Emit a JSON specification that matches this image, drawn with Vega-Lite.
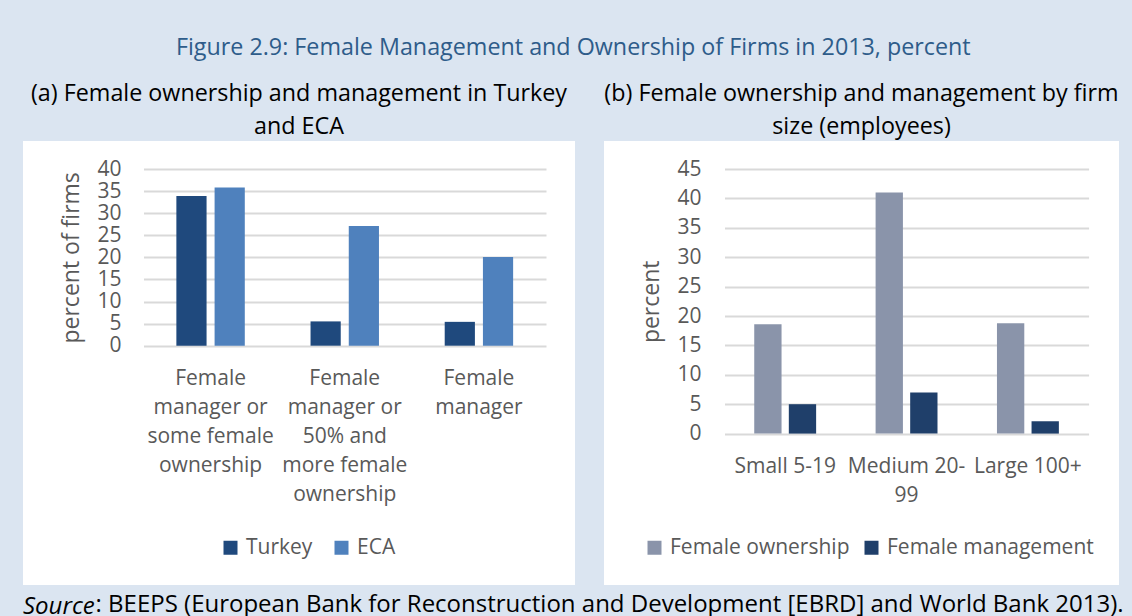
{
  "$schema": "https://vega.github.io/schema/vega-lite/v6.json",
  "background": "#dbe5f1",
  "padding": {"left": 23, "top": 36, "right": 11, "bottom": 20},
  "title": {"text": "Figure 2.9: Female Management and Ownership of Firms in 2013, percent", "font": "Open Sans", "fontSize": 23.3, "fontWeight": "normal", "color": "#2e5c8a", "anchor": "middle", "offset": 21},
  "config": {
    "view": {"fill": "white", "stroke": null},
    "font": "Open Sans",
    "axis": {"labelFont": "Open Sans", "titleFont": "Open Sans", "labelColor": "#595959", "titleColor": "#595959", "labelFontSize": 21, "titleFontSize": 23, "titleFontWeight": "normal", "domain": false, "ticks": false, "gridColor": "#d9d9d9", "gridWidth": 2},
    "legend": {"labelFont": "Open Sans", "labelFontSize": 21, "labelColor": "#595959", "symbolType": "square", "symbolSize": 196, "symbolStrokeWidth": 0, "columnPadding": 18, "labelOffset": 5, "padding": 0, "title": null, "labelLimit": 400},
    "title": {"font": "Open Sans", "fontWeight": "normal", "color": "black"}
  },
  "vconcat": [
    {
      "title": {"text": ": BEEPS (European Bank for Reconstruction and Development [EBRD] and World Bank 2013).", "orient": "bottom", "anchor": "start", "dx": 72.5, "offset": -26.5, "fontSize": 24, "color": "black"},
      "vconcat": [
        {
          "title": {"text": "Source", "orient": "bottom", "anchor": "start", "fontStyle": "italic", "fontSize": 24, "color": "black", "offset": 10},
          "bounds": "flush",
          "spacing": 29,
          "resolve": {"scale": {"x": "independent", "y": "independent", "color": "independent", "xOffset": "independent"}, "legend": {"color": "independent"}},
          "hconcat": [
            {
              "width": 552,
              "height": 444,
              "title": {"text": ["(a) Female ownership and management in Turkey", "and ECA"], "fontSize": 23.3, "color": "black", "lineHeight": 33, "anchor": "middle", "offset": 2},
              "data": {"values": [
                {"category": "Female|manager or|some female|ownership", "series": "Turkey", "value": 33.9},
                {"category": "Female|manager or|some female|ownership", "series": "ECA", "value": 35.8},
                {"category": "Female|manager or|50% and|more female|ownership", "series": "Turkey", "value": 5.5},
                {"category": "Female|manager or|50% and|more female|ownership", "series": "ECA", "value": 27.1},
                {"category": "Female|manager", "series": "Turkey", "value": 5.4},
                {"category": "Female|manager", "series": "ECA", "value": 20.1}
              ]},
              "mark": {"type": "bar"},
              "encoding": {
                "x": {"field": "category", "type": "nominal", "sort": null, "scale": {"range": [120.5, 523], "paddingInner": 0.49, "paddingOuter": 0.245}, "axis": {"title": null, "orient": "bottom", "offset": -239.3, "labelExpr": "split(datum.value, '|')", "labelAngle": 0, "labelLineHeight": 29, "labelPadding": 22, "labelLimit": 300, "labelOverlap": false, "grid": false}},
                "xOffset": {"field": "series", "type": "nominal", "sort": ["Turkey", "ECA"], "scale": {"paddingInner": 0.21}},
                "y": {"field": "value", "type": "quantitative", "scale": {"domain": [0, 40], "range": [204.7, 28], "nice": false}, "axis": {"title": "percent of firms", "values": [0, 5, 10, 15, 20, 25, 30, 35, 40], "offset": -120.5, "labelPadding": 22.5, "grid": true, "titlePadding": 13}},
                "color": {"field": "series", "type": "nominal", "sort": ["Turkey", "ECA"], "scale": {"domain": ["Turkey", "ECA"], "range": ["#1f497d", "#4f81bd"]}, "legend": {"orient": "none", "legendX": 197, "legendY": 396, "direction": "horizontal"}}
              }
            },
            {
              "width": 515,
              "height": 444,
              "title": {"text": ["(b) Female ownership and management by firm", "size (employees)"], "fontSize": 23.3, "color": "black", "lineHeight": 33, "anchor": "middle", "offset": 2},
              "data": {"values": [
                {"size": "Small 5-19", "series": "Female ownership", "value": 18.6},
                {"size": "Small 5-19", "series": "Female management", "value": 5.0},
                {"size": "Medium 20-|99", "series": "Female ownership", "value": 41.0},
                {"size": "Medium 20-|99", "series": "Female management", "value": 7.0},
                {"size": "Large 100+", "series": "Female ownership", "value": 18.75},
                {"size": "Large 100+", "series": "Female management", "value": 2.1}
              ]},
              "mark": {"type": "bar"},
              "encoding": {
                "x": {"field": "size", "type": "nominal", "sort": null, "scale": {"range": [120.5, 484.6], "paddingInner": 0.49, "paddingOuter": 0.245}, "axis": {"title": null, "orient": "bottom", "offset": -151.4, "labelExpr": "split(datum.value, '|')", "labelAngle": 0, "labelLineHeight": 29, "labelPadding": 22, "labelLimit": 300, "labelOverlap": false, "grid": false}},
                "xOffset": {"field": "series", "type": "nominal", "sort": ["Female ownership", "Female management"], "scale": {"paddingInner": 0.21}},
                "y": {"field": "value", "type": "quantitative", "scale": {"domain": [0, 45], "range": [292.6, 28], "nice": false}, "axis": {"title": "percent", "values": [0, 5, 10, 15, 20, 25, 30, 35, 40, 45], "offset": -120.5, "labelPadding": 23.5, "grid": true, "titlePadding": 13}},
                "color": {"field": "series", "type": "nominal", "sort": ["Female ownership", "Female management"], "scale": {"domain": ["Female ownership", "Female management"], "range": ["#8a94aa", "#1f3f6a"]}, "legend": {"orient": "none", "legendX": 40, "legendY": 396, "direction": "horizontal", "columnPadding": 11}}
              }
            }
          ]
        }
      ]
    }
  ]
}
